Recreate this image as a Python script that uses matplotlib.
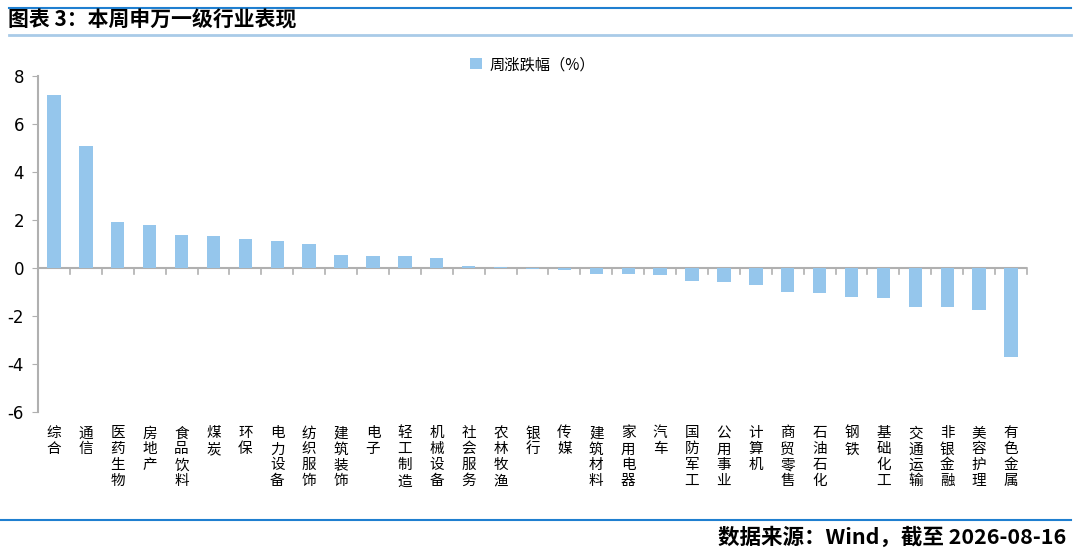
import numpy as np
import matplotlib.pyplot as plt

plt.rcParams['font.family'] = ['Noto Sans CJK SC', 'DejaVu Sans']

industries = ['综合', '通信', '医药生物', '房地产', '食品饮料', '煤炭', '环保', '电力设备',
              '纺织服饰', '建筑装饰', '电子', '轻工制造', '机械设备', '社会服务', '农林牧渔',
              '银行', '传媒', '建筑材料', '家用电器', '汽车', '国防军工', '公用事业', '计算机',
              '商贸零售', '石油石化', '钢铁', '基础化工', '交通运输', '非银金融', '美容护理', '有色金属']
weekly_change = [7.21, 5.08, 1.92, 1.79, 1.38, 1.35, 1.20, 1.12,
                 1.00, 0.55, 0.50, 0.50, 0.43, 0.10, 0.06,
                 -0.04, -0.08, -0.25, -0.25, -0.30, -0.55, -0.58, -0.70,
                 -0.98, -1.04, -1.21, -1.25, -1.62, -1.62, -1.73, -3.72]
y_ticks = [-6, -4, -2, 0, 2, 4, 6, 8]

W, H = 1080, 552
fig = plt.figure(figsize=(W / 100, H / 100), dpi=100)

# header / footer lines and texts
blue = '#1f7fd0'
fig.add_artist(plt.Line2D([0.008, 0.992], [1 - 8 / H, 1 - 8 / H], color=blue, lw=1.5))
fig.add_artist(plt.Line2D([0.008, 0.992], [1 - 35 / H, 1 - 35 / H], color='#a9cbe8', lw=2))
fig.add_artist(plt.Line2D([0.0, 0.992], [1 - 520 / H, 1 - 520 / H], color=blue, lw=1.5))
fig.text(8 / W, 1 - 20 / H, '图表 3：本周申万一级行业表现', fontsize=15, fontweight='bold',
         va='center', ha='left')
fig.text(1066 / W, 1 - 537 / H, '数据来源：Wind，截至 2026-08-16', fontsize=15.5,
         fontweight='bold', va='center', ha='right')

ax = fig.add_axes([38 / W, 1 - 412 / H, (1027 - 38) / W, (412 - 76) / H])
x = np.arange(len(industries))
ax.bar(x, weekly_change, width=0.42, color='#95c6ec', label='周涨跌幅（%）', zorder=3)

ax.set_xlim(-0.5, len(industries) - 0.5)
ax.set_ylim(-6, 8)
ax.set_yticks(y_ticks)
ax.set_yticklabels([str(v) for v in y_ticks], fontsize=12, family='DejaVu Sans')
ax.tick_params(axis='y', length=4, color='#b0b0b0', pad=6)

for s in ['top', 'right', 'bottom']:
    ax.spines[s].set_visible(False)
ax.spines['left'].set_color('#b0b0b0')
ax.spines['left'].set_linewidth(1.5)
ax.axhline(0, color='#b0b0b0', lw=1.5, zorder=2)

# small ticks between categories under the zero line
for b in np.arange(0.5, len(industries), 1.0):
    ax.plot([b, b], [0, -0.25], color='#b0b0b0', lw=1.2, zorder=2, clip_on=False)

ax.set_xticks([])
for i, name in enumerate(industries):
    ax.text(i, -6.6, '\n'.join(name), ha='center', va='top', fontsize=10.5,
            linespacing=1.18)

ax.legend(loc='upper center', bbox_to_anchor=(0.5, 1.1), frameon=False, fontsize=11,
          handlelength=0.75, handleheight=0.75, handletextpad=0.5)

fig.savefig('out.png', dpi=100)
